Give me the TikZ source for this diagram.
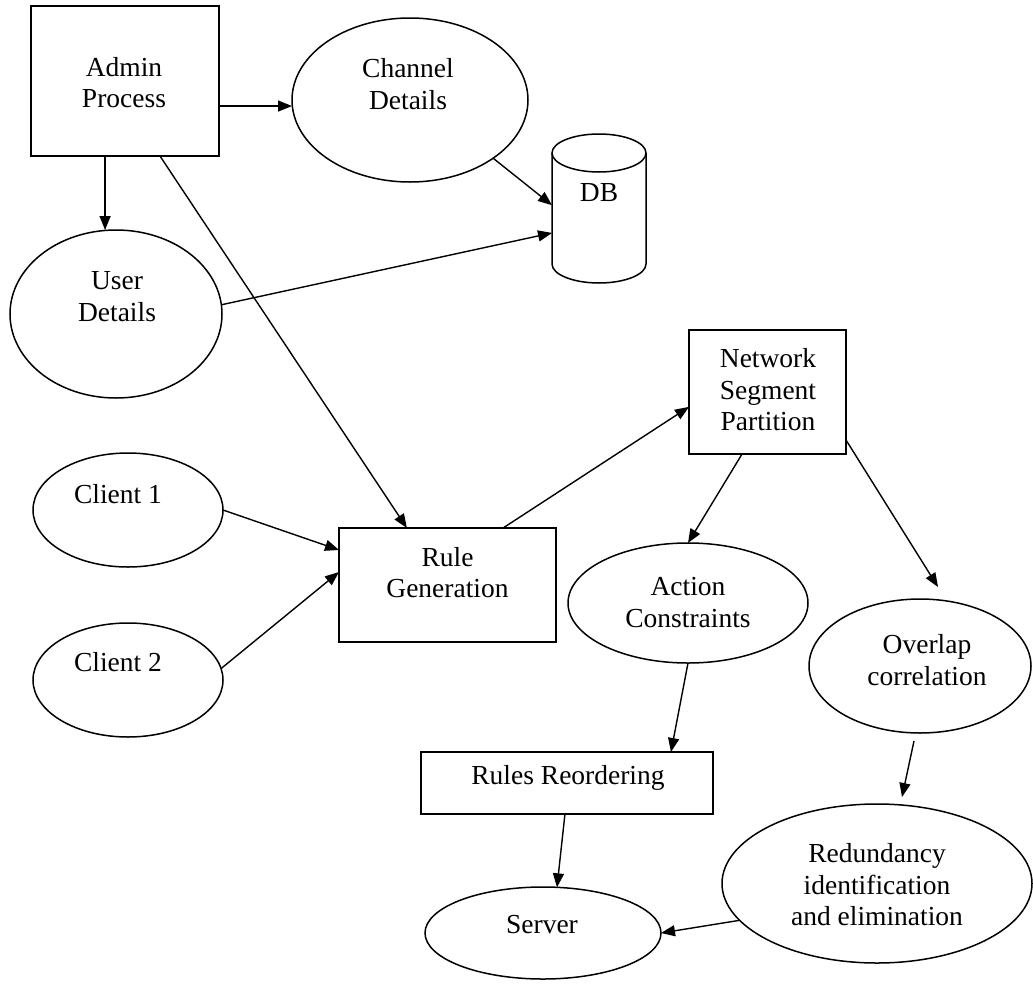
\documentclass[tikz,border=0pt]{standalone}
\usepackage{fontspec}
\setmainfont{Liberation Serif}
\usetikzlibrary{arrows.meta,shapes.geometric,calc}
\begin{document}
\begin{tikzpicture}[x=1pt,y=-1pt,
  outline/.style={draw, line width=1.5pt, inner sep=0pt, outer sep=0pt},
  boxshape/.style={outline, rectangle},
  ellshape/.style={outline, ellipse},
  txt/.style={font=\fontsize{27.5}{31.5}\selectfont, align=center, inner sep=0pt},
  arr/.style={line width=1.4pt, -{Triangle[length=14pt,width=11pt]}}
]
\useasboundingbox (0,0) rectangle (1033,985);

% ---- shapes ----
\node[boxshape, minimum width=188pt, minimum height=150pt] (admin) at (125,81) {};
\node[ellshape, minimum width=236pt, minimum height=164pt] (chan) at (410,100) {};
\node[inner sep=0pt, outer sep=0pt, minimum width=94pt, minimum height=111pt] (db) at (599,208.5) {};
\node[ellshape, minimum width=212pt, minimum height=168pt] (user) at (116,314) {};
\node[ellshape, minimum width=190pt, minimum height=114pt] (c1) at (128,510) {};
\node[ellshape, minimum width=190pt, minimum height=114pt] (c2) at (128,680) {};
\node[boxshape, minimum width=217pt, minimum height=114pt] (rule) at (447.5,585) {};
\node[boxshape, minimum width=157pt, minimum height=124pt] (nsp) at (767.5,392) {};
\node[ellshape, minimum width=240pt, minimum height=120pt] (act) at (688,603) {};
\node[ellshape, minimum width=222pt, minimum height=134pt] (ov) at (920,666) {};
\node[boxshape, minimum width=292pt, minimum height=62pt] (reo) at (567,783) {};
\node[ellshape, minimum width=310pt, minimum height=159pt] (red) at (877,883.5) {};
\node[ellshape, minimum width=236pt, minimum height=92pt] (srv) at (543,933) {};

% database cylinder
\draw[line width=1.5pt] (db.north west) -- (db.south west)
  arc[start angle=180, end angle=360, x radius=47pt, y radius=19pt] -- (db.north east);
\draw[line width=1.5pt] (db.north) ellipse[x radius=47pt, y radius=19pt];

% ---- labels ----
\node[txt] (tadmin) at ($(admin)+(-1,1.5)$) {Admin\\Process};
\node[txt] (tchan) at ($(chan)+(-2,-16)$) {Channel\\Details};
\node[txt] (tdb) at ($(db.north)+(0,40)$) {DB};
\node[txt] (tuser) at ($(user)+(1,-17.5)$) {User\\Details};
\node[txt] (tc1) at ($(c1)+(-10,-16)$) {Client 1};
\node[txt] (tc2) at ($(c2)+(-10,-18)$) {Client 2};
\node[txt] (trule) at ($(rule)+(0,-12.5)$) {Rule\\Generation};
\node[txt] (tnsp) at ($(nsp)+(0.5,-2)$) {Network\\Segment\\Partition};
\node[txt] (tact) at ($(act)+(0,-0.5)$) {Action\\Constraints};
\node[txt] (tov) at ($(ov)+(7,-6)$) {Overlap\\correlation};
\node[txt] (treo) at ($(reo)+(1,-5)$) {Rules Reordering};
\node[txt] (tred) at ($(red)+(0,1.5)$) {Redundancy\\identification\\and elimination};
\node[txt] (tsrv) at ($(srv)+(-1,-8)$) {Server};

% ---- connectors ----
\coordinate (a1) at ($(admin.north east)!0.667!(admin.south east)$);
\draw[arr] (a1) -- (a1 -| chan.west);
\coordinate (a2) at ($(admin.south west)!0.394!(admin.south east)$);
\draw[arr] (a2) -- (a2 |- user.north);
\draw[arr] ($(admin.south west)!0.686!(admin.south east)$) -- ($(rule.north west)!0.313!(rule.north east)$);
\draw[arr] (chan.-35) -- ($(db.north west)!0.47!(db.south west)$);
\draw[arr] (user.5) -- ($(db.north west)!0.72!(db.south west)$);
\draw[arr] (c1.east) -- ($(rule.north west)!0.193!(rule.south west)$);
\draw[arr] (c2.7) -- ($(rule.north west)!0.386!(rule.south west)$);
\draw[arr] ($(rule.north west)!0.756!(rule.north east)$) -- ($(nsp.north west)!0.62!(nsp.south west)$);
\draw[arr] ($(nsp.south west)!0.338!(nsp.south east)$) -- (act.north);
\draw[arr] ($(nsp.north east)!0.887!(nsp.south east)$) -- ($(ov.north)+(18,-12)$);
\draw[arr] (act.south) -- ($(reo.north west)!0.856!(reo.north east)$);
\draw[arr] ($(ov.south)+(-6,8)$) -- ($(red.north)+(25,-7)$);
\draw[arr] ($(reo.south west)!0.493!(reo.south east)$) -- (srv.73);
\draw[arr] (red.195) -- (srv.east);
\end{tikzpicture}
\end{document}
